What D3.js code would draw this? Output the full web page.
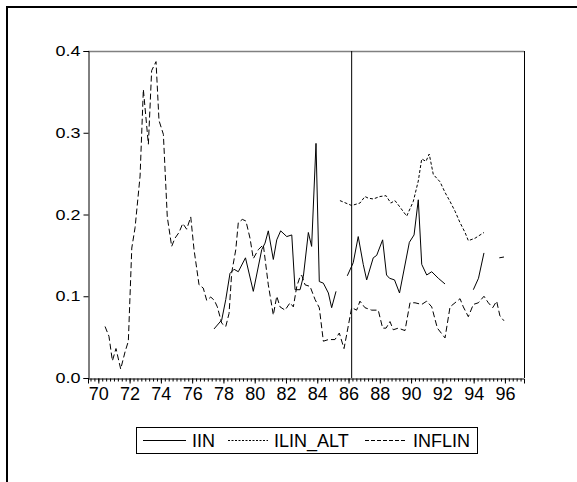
<!DOCTYPE html>
<html>
<head>
<meta charset="utf-8">
<script src="https://cdn.jsdelivr.net/npm/d3@7/dist/d3.min.js"></script>
<style>
body { margin: 0; background: #fff; }
text { font-family: Arial, "Liberation Sans", sans-serif; fill: #000; }
</style>
</head>
<body>
<div id="chart-container"></div>
<script>
// series: [year, value], null = gap
var iin = [
  [1977.40,0.060],[1977.89,0.071],[1978.15,0.096],[1978.42,0.128],[1978.68,0.133],
  [1978.95,0.130],[1979.41,0.147],[1979.91,0.106],[1980.45,0.157],[1980.66,0.165],
  [1980.87,0.180],[1981.19,0.145],[1981.41,0.169],[1981.66,0.180],[1982.05,0.173],
  [1982.37,0.175],[1982.58,0.108],[1982.90,0.108],[1983.11,0.124],[1983.43,0.178],
  [1983.64,0.161],[1983.92,0.287],[1984.13,0.118],[1984.39,0.116],[1984.71,0.104],
  [1984.92,0.086],[1985.20,0.106],
  null,
  [1985.92,0.125],[1986.30,0.141],[1986.62,0.173],[1986.94,0.139],[1987.16,0.120],
  [1987.58,0.147],[1987.80,0.150],[1988.18,0.169],[1988.43,0.126],[1988.62,0.122],
  [1988.94,0.120],[1989.26,0.104],[1989.89,0.166],[1990.19,0.175],[1990.46,0.218],
  [1990.68,0.139],[1991.00,0.126],[1991.32,0.130],[1991.74,0.122],[1992.17,0.115],
  null,
  [1993.98,0.108],[1994.31,0.122],[1994.66,0.153],
  null,
  [1995.64,0.147],[1995.94,0.148]
];

var ilinAlt = [
  [1985.45,0.217],[1986.20,0.211],[1986.73,0.214],[1987.05,0.222],[1987.26,0.220],
  [1987.58,0.219],[1988.01,0.222],[1988.40,0.223],[1988.70,0.214],[1988.97,0.217],
  [1989.29,0.209],[1989.72,0.198],[1990.14,0.216],[1990.46,0.241],[1990.68,0.268],
  [1990.95,0.265],[1991.16,0.274],[1991.42,0.249],[1991.85,0.240],[1992.17,0.227],
  [1992.49,0.216],[1992.81,0.204],[1993.13,0.190],[1993.45,0.178],[1993.66,0.168],
  [1994.09,0.171],[1994.66,0.178]
];

var inflin = [
  [1970.43,0.063],[1970.68,0.051],[1970.90,0.021],[1971.13,0.036],[1971.43,0.011],
  [1971.71,0.032],[1971.92,0.045],[1972.14,0.159],[1972.35,0.184],[1972.67,0.247],
  [1972.88,0.353],[1973.20,0.286],[1973.41,0.376],[1973.69,0.387],[1973.88,0.315],
  [1974.16,0.298],[1974.41,0.197],[1974.69,0.161],[1974.90,0.171],[1975.16,0.178],
  [1975.40,0.189],[1975.65,0.182],[1975.91,0.197],[1976.12,0.157],[1976.44,0.114],
  [1976.71,0.110],[1976.93,0.095],[1977.19,0.099],[1977.42,0.095],[1977.61,0.087],
  [1977.89,0.067],[1978.15,0.063],[1978.36,0.079],[1978.53,0.129],[1978.79,0.157],
  [1978.95,0.190],[1979.21,0.194],[1979.44,0.192],[1979.70,0.171],[1979.91,0.146],
  [1980.23,0.157],[1980.55,0.163],[1980.87,0.114],[1981.19,0.077],[1981.41,0.100],
  [1981.62,0.087],[1981.94,0.083],[1982.26,0.092],[1982.47,0.087],[1982.69,0.112],
  [1982.90,0.124],[1983.00,0.126],[1983.22,0.114],[1983.54,0.112],[1983.86,0.096],
  [1984.13,0.086],[1984.39,0.045],[1984.71,0.047],[1985.13,0.047],[1985.41,0.055],
  [1985.71,0.036],[1985.88,0.053],[1986.20,0.086],[1986.52,0.083],[1986.73,0.094],
  [1987.05,0.086],[1987.48,0.083],[1987.90,0.083],[1988.18,0.061],[1988.40,0.061],
  [1988.65,0.069],[1988.86,0.059],[1989.18,0.061],[1989.61,0.058],[1989.93,0.092],
  [1990.25,0.092],[1990.68,0.090],[1991.00,0.094],[1991.32,0.087],[1991.68,0.061],
  [1992.17,0.049],[1992.49,0.087],[1992.81,0.092],[1993.13,0.097],[1993.34,0.087],
  [1993.66,0.075],[1993.98,0.090],[1994.30,0.092],[1994.66,0.100],[1994.94,0.092],
  [1995.22,0.086],[1995.47,0.094],[1995.68,0.076],[1995.94,0.070]
];

var seriesNames = ["IIN", "ILIN_ALT", "INFLIN"];
var yTicks = [0.0, 0.1, 0.2, 0.3, 0.4];
var xLabelYears = [1970,1972,1974,1976,1978,1980,1982,1984,1986,1988,1990,1992,1994,1996];
var splitYear = 1986.2;

var w = 577, h = 482;
var pLeft = 88, pRight = 524, pTop = 51, pBottom = 378;

var svg = d3.select("#chart-container").append("svg")
    .attr("width", w).attr("height", h);

// outer frame
svg.append("rect")
    .attr("x", 7).attr("y", 7).attr("width", 620).attr("height", 620)
    .attr("fill", "none").attr("stroke", "#000").attr("stroke-width", 2);

var xScale = d3.scaleLinear().domain([1969.34, 1997.22]).range([pLeft, pRight]);
var yScale = d3.scaleLinear().domain([0, 0.4]).range([pBottom, pTop]);

// plot frame: top grey, right black
svg.append("line").attr("x1", pLeft).attr("x2", pRight).attr("y1", pTop + 0.5).attr("y2", pTop + 0.5)
    .attr("stroke", "#808080").attr("stroke-width", 1.5);
svg.append("line").attr("x1", pRight + 0.5).attr("x2", pRight + 0.5).attr("y1", pTop).attr("y2", pBottom)
    .attr("stroke", "#000").attr("stroke-width", 1);

//y axis
var yAxis = d3.axisLeft(yScale).tickValues(yTicks).tickSize(5).tickPadding(3)
    .tickFormat(d3.format(".1f"));
svg.append("g").attr("transform", "translate(" + (pLeft + 0.5) + ",0)")
    .call(yAxis)
    .call(function(g){
        g.select(".domain").attr("stroke", "#000");
        g.selectAll("line").attr("stroke", "#000");
        g.selectAll("text").style("font-size", "18px").attr("transform", "scale(1,0.8)")
            .attr("y", function(d){ return (yScale(d) - yScale(d)) ; });
    });

//x axis: quarter ticks, labels every two years
var quarters = d3.range(1969.5, 1997.25, 0.25);
var xMinor = d3.axisBottom(xScale).tickValues(quarters).tickSize(3).tickFormat("");
svg.append("g").attr("transform", "translate(0," + (pBottom + 0.5) + ")")
    .call(xMinor)
    .call(function(g){
        g.select(".domain").remove();
        g.selectAll("line").attr("stroke", "#000");
    });
var xAxis = d3.axisBottom(xScale).tickValues(xLabelYears).tickSize(5).tickPadding(4)
    .tickFormat(function(d){ return String(d).slice(2); });
svg.append("g").attr("transform", "translate(0," + (pBottom + 0.5) + ")")
    .call(xAxis)
    .call(function(g){
        g.select(".domain").attr("stroke", "#000");
        g.selectAll("line").attr("stroke", "#000");
        g.selectAll("text").style("font-size", "18px");
    });

// vertical split line
svg.append("line")
    .attr("x1", xScale(splitYear)).attr("x2", xScale(splitYear))
    .attr("y1", pTop).attr("y2", pBottom)
    .attr("stroke", "#000").attr("stroke-width", 1);

var line = d3.line()
    .defined(function(d){ return d !== null; })
    .x(function(d){ return xScale(d[0]); })
    .y(function(d){ return yScale(d[1]); });

var styles = [
    { data: iin, dash: null },
    { data: ilinAlt, dash: "3,2" },
    { data: inflin, dash: "6,3" }
];

svg.selectAll("path.series")
    .data(styles)
    .enter()
    .append("path")
    .attr("class", "series")
    .attr("d", function(d){ return line(d.data); })
    .attr("fill", "none")
    .attr("stroke", "#000")
    .attr("stroke-width", 1)
    .attr("stroke-dasharray", function(d){ return d.dash; });

// legend
var legend = svg.append("g");
legend.append("rect")
    .attr("x", 136.5).attr("y", 427.5).attr("width", 341).attr("height", 26)
    .attr("fill", "#fff").attr("stroke", "#000");
var legendX = [143, 228, 365];
var legendLen = [43, 40, 42];
legend.selectAll("line.key")
    .data(styles)
    .enter()
    .append("line")
    .attr("x1", function(d, i){ return legendX[i]; })
    .attr("x2", function(d, i){ return legendX[i] + legendLen[i]; })
    .attr("y1", 440.5).attr("y2", 440.5)
    .attr("stroke", "#000")
    .attr("stroke-dasharray", function(d, i){ return i === 1 ? "2,1.5" : (i === 2 ? "4,2" : null); });
legend.selectAll("text")
    .data(seriesNames)
    .enter()
    .append("text")
    .attr("x", function(d, i){ return legendX[i] + legendLen[i] + 6; })
    .attr("y", 447)
    .style("font-size", "18px")
    .text(function(d){ return d; });
</script>
</body>
</html>
